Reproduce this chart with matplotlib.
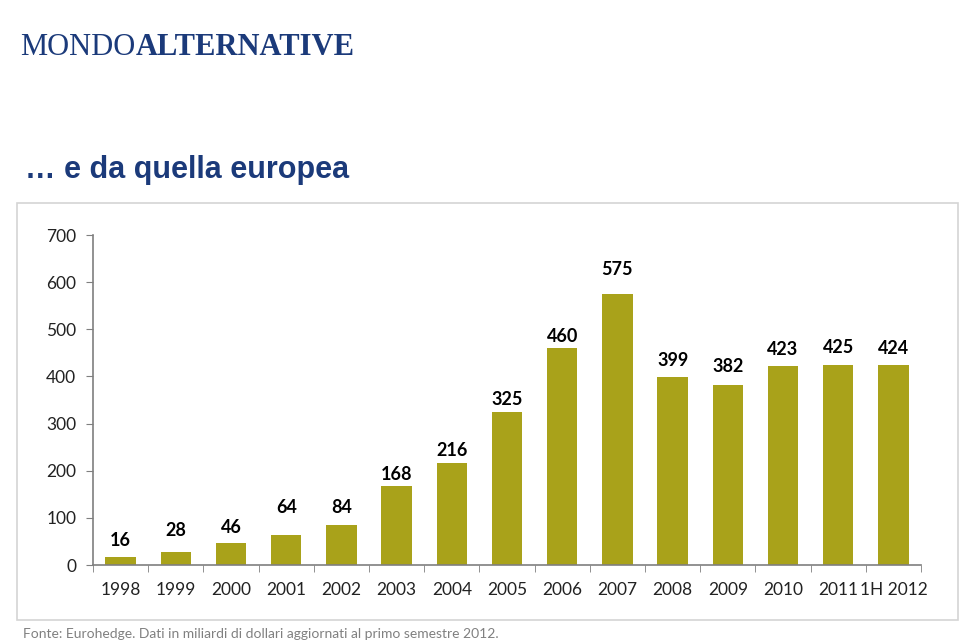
import matplotlib.pyplot as plt
from matplotlib.patches import Rectangle
from matplotlib.text import Annotation

# dati (miliardi di dollari)
years = ['1998', '1999', '2000', '2001', '2002', '2003', '2004', '2005',
         '2006', '2007', '2008', '2009', '2010', '2011', '1H 2012']
assets = [16, 28, 46, 64, 84, 168, 216, 325, 460, 575, 399, 382, 423, 425, 424]
yticks = [0, 100, 200, 300, 400, 500, 600, 700]

# distanza etichetta-barra in pixel (come nell'originale)
label_gap = [17, 21, 16, 27, 18, 11, 13, 12, 12, 24, 16, 18, 16, 17, 17]

bar_color = '#A9A21A'
navy = '#1B3A7A'
W, H = 960, 642

fig = plt.figure(figsize=(9.6, 6.42), dpi=100)
fig.patch.set_facecolor('white')

# logo
t1 = fig.text(20 / W, 1 - 62 / H, 'MONDO', family='Liberation Serif', fontsize=22,
              color=navy, va='bottom', ha='left')
fig.add_artist(Annotation('ALTERNATIVE', xy=(1, 0), xycoords=t1,
                          family='Liberation Serif', fontsize=22, fontweight='bold',
                          color=navy, va='bottom', ha='left'))

# titolo
fig.text(25 / W, 1 - 178 / H, '\u2026 e da quella europea', family='Liberation Sans',
         fontsize=22, fontweight='bold', color=navy, va='baseline', ha='left')

# cornice del grafico
fig.patches.append(Rectangle((17 / W, 1 - 620 / H), 941 / W, 417 / H,
                             transform=fig.transFigure, fill=False,
                             edgecolor='#D4D4D4', linewidth=1.2))

ax = fig.add_axes([93 / W, 1 - 565 / H, 828 / W, 330 / H])
x = range(len(years))
bars = ax.bar(x, assets, width=0.55, color=bar_color)

for i, b in enumerate(bars):
    ax.annotate(str(assets[i]), (b.get_x() + b.get_width() / 2, b.get_height()),
                xytext=(0, label_gap[i] * 0.72), textcoords='offset points',
                ha='center', va='center', family='Lato', fontweight='bold',
                fontsize=13, color='black')

ax.set_xlim(-0.5, len(years) - 0.5)
ax.set_ylim(0, 700)
ax.set_yticks(yticks)
ax.set_yticklabels([str(v) for v in yticks], family='Lato', fontsize=12.5, color='#222222')
ax.set_xticks(list(x))
ax.set_xticklabels(years, family='Lato', fontsize=12.5, color='#222222')
ax.set_xticks([i - 0.5 for i in range(len(years) + 1)], minor=True)
ax.tick_params(axis='x', which='major', length=0, pad=12)
ax.tick_params(axis='x', which='minor', length=5, color='#7F7F7F', direction='out')
ax.tick_params(axis='y', length=5, color='#7F7F7F', pad=7)

for s in ['top', 'right']:
    ax.spines[s].set_visible(False)
for s in ['left', 'bottom']:
    ax.spines[s].set_color('#7F7F7F')
    ax.spines[s].set_linewidth(1.2)

# fonte
fig.text(23 / W, 1 - 638 / H,
         'Fonte: Eurohedge. Dati in miliardi di dollari aggiornati al primo semestre 2012.',
         family='Lato', fontsize=10, color='#808080', va='baseline', ha='left')

fig.savefig('out.png', dpi=100)
